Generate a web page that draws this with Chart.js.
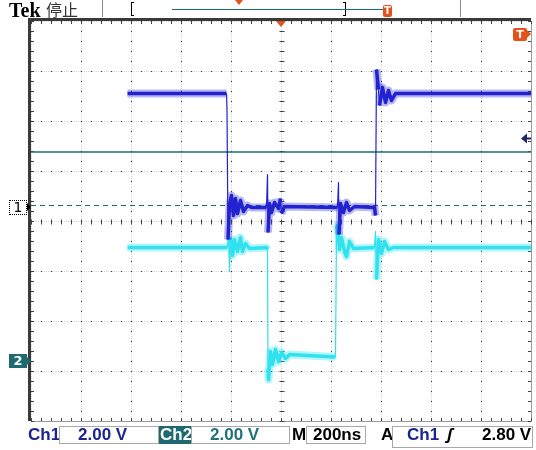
<!DOCTYPE html>
<html>
<head>
<meta charset="utf-8">
<title>Tek 停止</title>
<script src="https://cdn.jsdelivr.net/npm/chart.js@4.4.1/dist/chart.umd.min.js"></script>
<style>
  html, body { margin: 0; padding: 0; background: #fff; }
  #scope { position: relative; width: 536px; height: 450px; overflow: hidden; }
  #scope canvas { position: absolute; left: 0; top: 0; }
  .abs { position: absolute; white-space: nowrap; }
  .ro { font: bold 17px "Liberation Sans", Arial, sans-serif; top: 426px; line-height: 17px; }
  .box { position: absolute; border: 1px solid #a8a8a8; box-sizing: border-box; top: 426px; height: 18px; }
  .navy { color: #1b2590; }
  .teal { color: #1f7377; }
  .orangeT { position: absolute; background: #e4521b; color: #fff; border-radius: 2px;
             font: bold 10px "DejaVu Sans", sans-serif; text-align: center; }
</style>
</head>
<body>
<div id="scope">
  <canvas id="scopeChart" width="536" height="450" style="width:536px;height:450px"></canvas>

  <!-- top status bar -->
  <div class="abs" style="left:9px;top:0;font:bold 20px 'Liberation Serif','Times New Roman',serif;line-height:20px;color:#000">Tek</div>
  <div class="abs" style="left:46px;top:1px;font:16px 'Noto Sans CJK SC',sans-serif;line-height:16px;color:#333">停止</div>
  <div class="abs" style="left:102px;top:0;width:1px;height:17px;background:#8a8a8a"></div>
  <div class="abs" style="left:460px;top:0;width:1px;height:17px;background:#8a8a8a"></div>
  <div class="abs" style="left:131px;top:2px;width:3px;height:14px;border:1.5px solid #000;border-right:none;box-sizing:border-box"></div>
  <div class="abs" style="left:343px;top:2px;width:3px;height:14px;border:1.5px solid #000;border-left:none;box-sizing:border-box"></div>
  <div class="abs" style="left:172px;top:9px;width:212px;height:1px;background:#1d6b70"></div>
  <div class="abs" style="left:235px;top:0;width:0;height:0;border-left:4px solid transparent;border-right:4px solid transparent;border-top:5px solid #e4521b"></div>
  <div class="orangeT" style="left:383px;top:5px;width:9px;height:12px;line-height:12px">T</div>

  <!-- markers inside graticule -->
  <div class="abs" style="left:276px;top:21px;width:0;height:0;border-left:5px solid transparent;border-right:5px solid transparent;border-top:6px solid #e4521b"></div>
  <div class="orangeT" style="left:513px;top:28px;width:14px;height:13px;line-height:13px;font-size:11px">T</div>
  <div class="abs" style="left:527px;top:30px;width:0;height:0;border-top:4.5px solid transparent;border-bottom:4.5px solid transparent;border-left:4px solid #e4521b"></div>

  <!-- channel ground markers -->
  <div class="abs" style="left:9px;top:200px;width:18px;height:15px;border:1px dotted #000;box-sizing:border-box;background:#fff;font:14px 'DejaVu Sans',sans-serif;line-height:13px;text-align:center;color:#000">1</div>
  <div class="abs" style="left:27px;top:203px;width:0;height:0;border-top:4px solid transparent;border-bottom:4px solid transparent;border-left:4px solid #000"></div>
  <div class="abs" style="left:9px;top:354px;width:18px;height:14px;background:#1d6b70;font:bold 13px 'DejaVu Sans',sans-serif;line-height:14px;text-align:center;color:#fff">2</div>
  <div class="abs" style="left:27px;top:357px;width:0;height:0;border-top:4px solid transparent;border-bottom:4px solid transparent;border-left:4px solid #1d6b70"></div>

  <!-- bottom readout -->
  <div class="abs ro navy" style="left:28px">Ch1</div>
  <div class="box" style="left:59px;width:100px"></div>
  <div class="abs ro navy" style="left:78px">2.00 V</div>
  <div class="abs" style="left:159px;top:426px;width:32px;height:18px;background:#1d6b70"></div>
  <div class="abs ro" style="left:160px;color:#fff">Ch2</div>
  <div class="box" style="left:191px;width:99px"></div>
  <div class="abs ro teal" style="left:210px">2.00 V</div>
  <div class="abs ro" style="left:292px;color:#000">M</div>
  <div class="box" style="left:306px;width:60px"></div>
  <div class="abs ro" style="left:313px;color:#000">200ns</div>
  <div class="abs ro" style="left:381px;color:#000">A</div>
  <div class="box" style="left:392px;width:141px;height:22px"></div>
  <div class="abs ro navy" style="left:407px">Ch1</div>
  <div class="abs ro" style="left:447px;color:#000;font-style:italic">ʃ</div>
  <div class="abs ro" style="left:482px;color:#000">2.80 V</div>
</div>

<script>
// Screen positions in graticule divisions: x 0..10 (200ns/div), y -4..+4 (2V/div)
// Ch1 (blue) trace
const ch1X = [1.93, 3.91, 3.92, 3.94, 3.97, 4.01, 4.05, 4.09, 4.13, 4.19,
              4.25, 4.33, 4.41, 4.71, 4.73, 4.74, 4.77, 4.81, 4.87, 4.95,
              4.99, 5.01, 5.07, 6.13, 6.15, 6.16, 6.19, 6.25, 6.31, 6.37,
              6.47, 6.87, 6.89, 6.91, 6.95, 6.97, 7.03, 7.09, 7.15, 7.21,
              7.29, 10];
const ch1Y = [2.55, 2.55, 2.23, -0.37, 0.33, 0.51, 0.11, 0.45, 0.15, 0.41,
              0.19, 0.31, 0.27, 0.27, 0.93, -0.23, 0.35, 0.17, 0.37, 0.25,
              0.45, 0.15, 0.29, 0.27, 0.77, -0.27, 0.35, 0.17, 0.37, 0.21,
              0.29, 0.27, 0.11, 3.03, 2.63, 2.31, 2.67, 2.37, 2.61, 2.41,
              2.55, 2.55];

// Ch2 (cyan) trace
const ch2X = [1.93, 3.93, 3.95, 3.97, 3.99, 4.03, 4.07, 4.13, 4.19, 4.23,
              4.29, 4.37, 4.71, 4.73, 4.74, 4.75, 4.79, 4.83, 4.89, 4.95,
              5.01, 5.09, 5.17, 6.09, 6.11, 6.13, 6.17, 6.21, 6.27, 6.31,
              6.37, 6.45, 6.87, 6.89, 6.91, 6.95, 7.01, 7.07, 7.15, 7.25,
              10];
const ch2Y = [-0.53, -0.53, -0.21, -1.01, -0.33, -0.69, -0.37, -0.61, -0.33, -0.61,
              -0.45, -0.55, -0.53, -0.57, -2.97, -3.17, -2.61, -2.87, -2.57, -2.81,
              -2.63, -2.75, -2.67, -2.72, -0.17, -0.09, -0.57, -0.33, -0.61, -0.71,
              -0.41, -0.55, -0.53, -0.21, -1.17, -0.37, -0.65, -0.41, -0.57, -0.53,
              -0.53];

// reference levels (divisions)
const cursorLevel = 1.38;   // solid teal line
const ch1Ground = 0.31;     // dashed line at the "1" marker
const trigLevel = 1.66;     // trigger arrow, right edge
const spanX = [0, 10];

const BLUE = '#2222d0';
const BLUE_GLOW = 'rgba(40, 40, 215, 0.33)';
const CYAN = '#2fe2ee';
const CYAN_GLOW = 'rgba(60, 230, 240, 0.38)';
const TEAL = '#1d6b70';

function toPoints(xs, ys) {
    return xs.map((x, i) => ({ x: x, y: ys[i] }));
}

// steep edges are drawn thin, the noisy plateaus thick
function isEdge(c) {
    return Math.abs(c.p1.x - c.p0.x) < 1.2 && Math.abs(c.p1.y - c.p0.y) > 14;
}

function traceSets(pts, color, glow) {
    return [
        {
            data: pts, borderColor: color, borderWidth: 3.5,
            segment: { borderWidth: c => isEdge(c) ? 1.2 : 3.5 }
        },
        {
            data: pts, borderColor: glow, borderWidth: 8,
            segment: { borderColor: c => isEdge(c) ? 'rgba(0,0,0,0)' : glow }
        }
    ];
}

const levelLine = (lvl, extra) => Object.assign({
    data: spanX.map(x => ({ x: x, y: lvl })),
    borderColor: TEAL,
    borderWidth: 1.3
}, extra);

const scopeFrame = {
    id: 'scopeFrame',
    beforeDatasetsDraw(chart) {
        const { ctx, chartArea: a, scales: { x, y } } = chart;
        ctx.save();
        // bezel: heavy top/left, light right/bottom
        ctx.fillStyle = '#3a3a3a';
        ctx.fillRect(a.left - 3, a.top - 3, a.right - a.left + 3, 3);
        ctx.fillRect(a.left - 3, a.top - 3, 3, a.bottom - a.top + 3);
        ctx.strokeStyle = '#9a9a9a';
        ctx.lineWidth = 1;
        ctx.beginPath();
        ctx.moveTo(a.right + 0.5, a.top);
        ctx.lineTo(a.right + 0.5, a.bottom + 1);
        ctx.moveTo(a.left, a.bottom + 0.5);
        ctx.lineTo(a.right + 1, a.bottom + 0.5);
        ctx.stroke();

        // minor ticks every 1/5 division on frame and centre cross
        const cx = Math.round(x.getPixelForValue(5)) + 0.5;
        const cy = Math.round(y.getPixelForValue(0)) + 0.5;
        ctx.strokeStyle = '#444';
        ctx.beginPath();
        for (let i = 0; i <= 50; i++) {
            const px = Math.round(x.getPixelForValue(i / 5)) + 0.5;
            ctx.moveTo(px, cy - 2); ctx.lineTo(px, cy + 3);
            ctx.moveTo(px, a.top); ctx.lineTo(px, a.top + 3);
            ctx.moveTo(px, a.bottom); ctx.lineTo(px, a.bottom - 3);
        }
        for (let j = 0; j <= 40; j++) {
            const py = Math.round(y.getPixelForValue(-4 + j / 5)) + 0.5;
            ctx.moveTo(cx - 2, py); ctx.lineTo(cx + 3, py);
            ctx.moveTo(a.left, py); ctx.lineTo(a.left + 3, py);
            ctx.moveTo(a.right, py); ctx.lineTo(a.right - 3, py);
        }
        ctx.stroke();
        ctx.restore();
    },
    afterDatasetsDraw(chart) {
        // trigger level arrow
        const { ctx, chartArea: a, scales: { y } } = chart;
        const py = Math.round(y.getPixelForValue(trigLevel));
        ctx.save();
        ctx.fillStyle = '#1c2470';
        ctx.beginPath();
        ctx.moveTo(a.right - 10, py + 0.5);
        ctx.lineTo(a.right - 4, py - 4.5);
        ctx.lineTo(a.right - 4, py + 5.5);
        ctx.closePath();
        ctx.fill();
        ctx.fillRect(a.right - 5, py - 0.5, 5, 2);
        ctx.restore();
    }
};

const edgeTick = (lo, hi) => c => (c.tick.value === lo || c.tick.value === hi) ? 'rgba(0,0,0,0)' : '#3a3a3a';

new Chart(document.getElementById('scopeChart'), {
    type: 'line',
    data: {
        datasets: [
            ...traceSets(toPoints(ch1X, ch1Y), BLUE, BLUE_GLOW),
            ...traceSets(toPoints(ch2X, ch2Y), CYAN, CYAN_GLOW),
            levelLine(cursorLevel, {}),
            levelLine(ch1Ground, { borderDash: [5, 4], borderWidth: 1.2 })
        ]
    },
    options: {
        responsive: false,
        devicePixelRatio: 1,
        animation: false,
        parsing: false,
        normalized: true,
        layout: { padding: { left: 31, right: 5, top: 21, bottom: 29 } },
        elements: {
            point: { radius: 0, hoverRadius: 0 },
            line: { tension: 0, borderCapStyle: 'butt', borderJoinStyle: 'round' }
        },
        plugins: { legend: { display: false }, tooltip: { enabled: false } },
        events: [],
        scales: {
            xf: {
                type: 'linear', axis: 'x', position: 'bottom', min: 0, max: 10, z: -1,
                ticks: { display: false, stepSize: 1 },
                grid: { color: '#d6d6d6', drawTicks: false },
                border: { display: false, dash: [1, 1], dashOffset: 1 }
            },
            yf: {
                type: 'linear', axis: 'y', position: 'left', min: -4, max: 4, z: -1,
                ticks: { display: false, stepSize: 1 },
                grid: { color: '#d6d6d6', drawTicks: false },
                border: { display: false, dash: [1, 1], dashOffset: 1 }
            },
            x: {
                type: 'linear', min: 0, max: 10,
                ticks: { display: false, stepSize: 1 },
                grid: { color: edgeTick(0, 10), drawTicks: false },
                border: { display: false, dash: [1, 9] }
            },
            y: {
                type: 'linear', min: -4, max: 4,
                ticks: { display: false, stepSize: 1 },
                grid: { color: edgeTick(-4, 4), drawTicks: false },
                border: { display: false, dash: [1, 9] }
            }
        }
    },
    plugins: [scopeFrame]
});
</script>
</body>
</html>
